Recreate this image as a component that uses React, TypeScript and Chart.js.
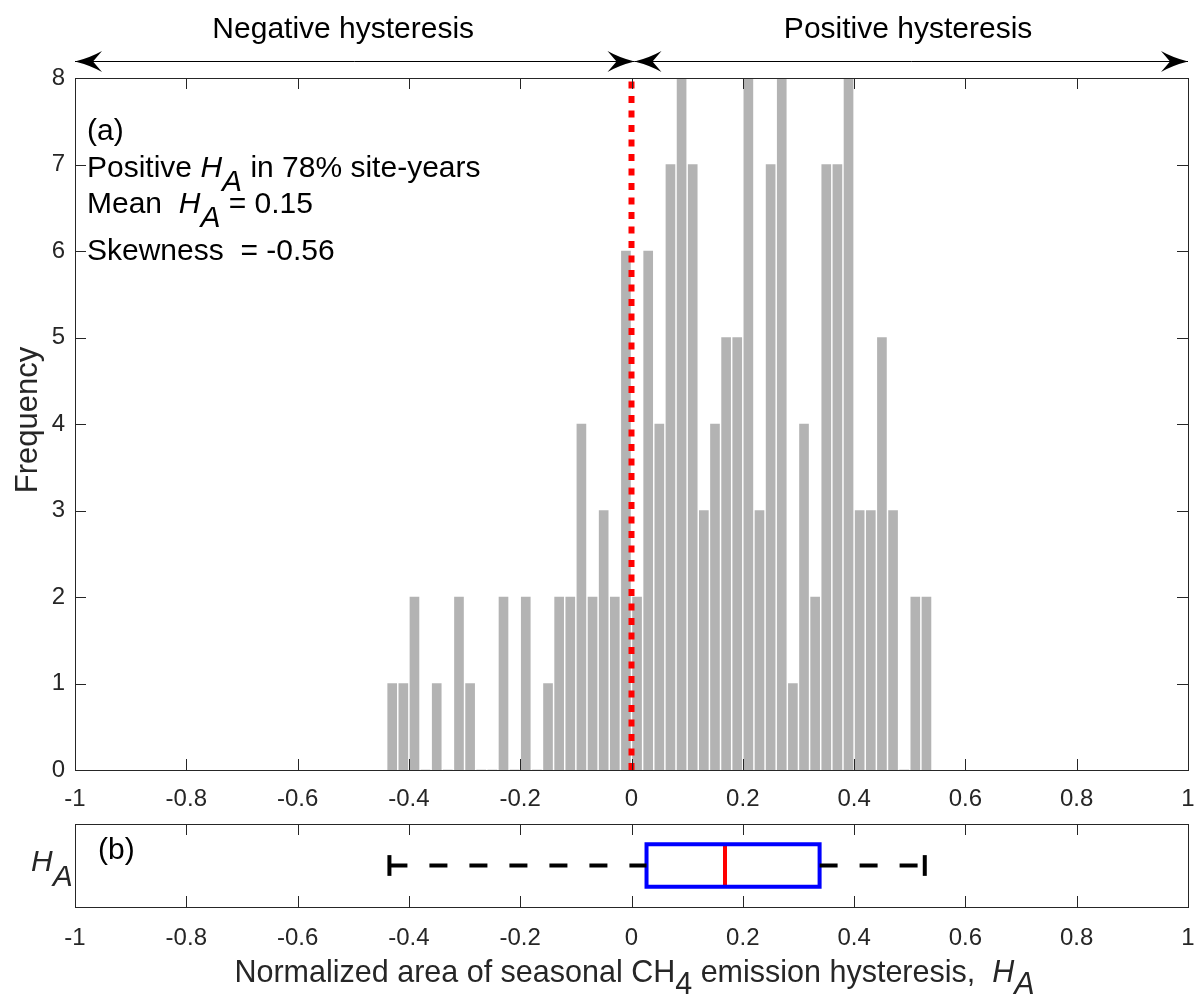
import React, { useEffect, useRef } from "react";
import { Chart, registerables } from "chart.js";

Chart.register(...registerables);

// ---------------- data ----------------
const binCenters = [
  -0.43, -0.41, -0.39, -0.37, -0.35, -0.33, -0.31, -0.29, -0.27, -0.25, -0.23, -0.21,
  -0.19, -0.17, -0.15, -0.13, -0.11, -0.09, -0.07, -0.05, -0.03, -0.01,
  0.01, 0.03, 0.05, 0.07, 0.09, 0.11, 0.13, 0.15, 0.17, 0.19, 0.21, 0.23, 0.25,
  0.27, 0.29, 0.31, 0.33, 0.35, 0.37, 0.39, 0.41, 0.43, 0.45, 0.47, 0.49, 0.51, 0.53,
];
const binCounts = [
  1, 1, 2, 0, 1, 0, 2, 1, 0, 0, 2, 0,
  2, 0, 1, 2, 2, 4, 2, 3, 2, 6,
  2, 6, 4, 7, 8, 7, 3, 4, 5, 5, 8, 3, 7,
  8, 1, 4, 2, 7, 7, 8, 3, 3, 5, 3, 0, 2, 2,
];
const xTickValues = [-1, -0.8, -0.6, -0.4, -0.2, 0, 0.2, 0.4, 0.6, 0.8, 1];
const yTickValues = [0, 1, 2, 3, 4, 5, 6, 7, 8];
const zeroLineX = 0;
// box plot: [lower whisker, q1, median, q3, upper whisker]
const boxValues = [-0.435, 0.027, 0.168, 0.338, 0.527];
const arrowRanges = [
  [-1, 0],
  [0, 1],
];
const arrowLabels = ["Negative hysteresis", "Positive hysteresis"];
const arrowLabelPos = [-0.518, 0.497];

const FONT = "'Liberation Sans', Arial, Helvetica, sans-serif";
const AXIS = "#262626";

type Seg = { t: string; i?: boolean; sub?: boolean };

const infoLines: Seg[][] = [
  [{ t: "(a)" }],
  [{ t: "Positive " }, { t: "H", i: true }, { t: "A", i: true, sub: true }, { t: " in 78% site-years" }],
  [{ t: "Mean  " }, { t: "H", i: true }, { t: "A", i: true, sub: true }, { t: " = 0.15" }],
  [{ t: "Skewness  = -0.56" }],
];
const infoBaselines = [140, 177, 213, 260];
const xTitle: Seg[] = [
  { t: "Normalized area of seasonal CH" },
  { t: "4", sub: true },
  { t: " emission hysteresis,  " },
  { t: "H", i: true },
  { t: "A", i: true, sub: true },
];
const yTitleBottom: Seg[] = [{ t: "H", i: true }, { t: "A", i: true, sub: true }];

function drawRich(
  ctx: CanvasRenderingContext2D,
  segs: Seg[],
  x: number,
  y: number,
  size: number,
  align: "left" | "center",
  subDy: number
) {
  const fontFor = (s: Seg) => `${s.i ? "italic " : ""}${size}px ${FONT}`;
  let total = 0;
  for (const s of segs) {
    ctx.font = fontFor(s);
    total += ctx.measureText(s.t).width;
  }
  let cx = align === "center" ? x - total / 2 : x;
  ctx.textAlign = "left";
  ctx.textBaseline = "alphabetic";
  for (const s of segs) {
    ctx.font = fontFor(s);
    ctx.fillText(s.t, cx, y + (s.sub ? subDy : 0));
    cx += ctx.measureText(s.t).width;
  }
}

function drawArrowHead(ctx: CanvasRenderingContext2D, tipX: number, y: number, dir: number) {
  const L = 27;
  const W = 10.5;
  const notch = 9;
  ctx.beginPath();
  ctx.moveTo(tipX, y);
  ctx.quadraticCurveTo(tipX - dir * L * 0.55, y - W * 0.35, tipX - dir * L, y - W);
  ctx.lineTo(tipX - dir * (L - notch), y);
  ctx.lineTo(tipX - dir * L, y + W);
  ctx.quadraticCurveTo(tipX - dir * L * 0.55, y + W * 0.35, tipX, y);
  ctx.closePath();
  ctx.fill();
}

function drawFrame(chart: any, yTicks: number[] | null) {
  const ctx: CanvasRenderingContext2D = chart.ctx;
  const a = chart.chartArea;
  const xs = chart.scales.x;
  const ys = chart.scales.y;
  const T = 11;
  ctx.save();
  ctx.strokeStyle = AXIS;
  ctx.lineWidth = 1;
  ctx.strokeRect(Math.round(a.left) + 0.5, Math.round(a.top) + 0.5, Math.round(a.right - a.left), Math.round(a.bottom - a.top));
  ctx.beginPath();
  for (const v of xTickValues) {
    const px = Math.round(xs.getPixelForValue(v)) + 0.5;
    ctx.moveTo(px, a.bottom);
    ctx.lineTo(px, a.bottom - T);
    ctx.moveTo(px, a.top);
    ctx.lineTo(px, a.top + T);
  }
  if (yTicks) {
    for (const v of yTicks) {
      const py = Math.round(ys.getPixelForValue(v)) + 0.5;
      ctx.moveTo(a.left, py);
      ctx.lineTo(a.left + T, py);
      ctx.moveTo(a.right, py);
      ctx.lineTo(a.right - T, py);
    }
  }
  ctx.stroke();
  ctx.restore();
}

const topPlugin = {
  id: "topDecor",
  afterDraw(chart: any) {
    const ctx: CanvasRenderingContext2D = chart.ctx;
    const a = chart.chartArea;
    const xs = chart.scales.x;
    drawFrame(chart, yTickValues);
    ctx.save();
    // arrows
    const ay = a.top - 17;
    ctx.strokeStyle = "#000";
    ctx.fillStyle = "#000";
    ctx.lineWidth = 1;
    arrowRanges.forEach(([lo, hi], k) => {
      const x0 = xs.getPixelForValue(lo) + (k === 1 ? 3 : 0);
      const x1 = xs.getPixelForValue(hi) + (k === 0 ? 3 : 0);
      ctx.beginPath();
      ctx.moveTo(x0, ay + 0.5);
      ctx.lineTo(x1, ay + 0.5);
      ctx.stroke();
      drawArrowHead(ctx, x0, ay + 0.5, -1);
      drawArrowHead(ctx, x1, ay + 0.5, 1);
    });
    ctx.fillStyle = "#000";
    arrowLabels.forEach((lab, k) => {
      drawRich(ctx, [{ t: lab }], xs.getPixelForValue(arrowLabelPos[k]), 38, 30, "center", 0);
    });
    // info text
    infoLines.forEach((segs, k) => {
      drawRich(ctx, segs, 87, infoBaselines[k], 30, "left", 14);
    });
    // y title
    ctx.fillStyle = AXIS;
    ctx.translate(28, 420);
    ctx.rotate(-Math.PI / 2);
    ctx.font = `31px ${FONT}`;
    ctx.textAlign = "center";
    ctx.textBaseline = "middle";
    ctx.fillText("Frequency", 0, 0);
    ctx.restore();
  },
};

const bottomPlugin = {
  id: "bottomDecor",
  afterDraw(chart: any) {
    const ctx: CanvasRenderingContext2D = chart.ctx;
    const a = chart.chartArea;
    drawFrame(chart, null);
    ctx.save();
    ctx.fillStyle = "#000";
    drawRich(ctx, [{ t: "(b)" }], 98, 59, 30, "left", 0);
    ctx.fillStyle = AXIS;
    drawRich(ctx, yTitleBottom, 31, 71, 30, "left", 15);
    drawRich(ctx, xTitle, (a.left + a.right) / 2 + 3, 182, 30.5, "center", 12);
    ctx.restore();
  },
};

const tickFont = { family: FONT, size: 24 };
const fmt = (v: number) => String(Math.round(v * 10) / 10);
const noPad = (s: any) => {
  s.paddingLeft = 0;
  s.paddingRight = 0;
};

export default function App() {
  const topRef = useRef<HTMLCanvasElement>(null);
  const botRef = useRef<HTMLCanvasElement>(null);

  useEffect(() => {
    const TOP_H = 830;
    const BOT_H = 194;
    const c1 = new Chart(topRef.current as HTMLCanvasElement, {
      type: "bar",
      data: {
        datasets: [
          {
            type: "line",
            data: [
              { x: zeroLineX, y: 0 },
              { x: zeroLineX, y: 8 },
            ],
            borderColor: "#ff0000",
            borderWidth: 6,
            borderDash: [7, 7.5],
            pointRadius: 0,
            order: 0,
            clip: 4,
          } as any,
          {
            type: "bar",
            data: binCenters.map((x, i) => ({ x, y: binCounts[i] })),
            backgroundColor: "#b3b3b3",
            borderWidth: 0,
            barThickness: 9,
            order: 1,
          } as any,
        ],
      },
      options: {
        responsive: false,
        animation: false,
        events: [],
        layout: { padding: { top: 78, left: 0, right: 7, bottom: 0 } },
        plugins: { legend: { display: false }, tooltip: { enabled: false } },
        scales: {
          x: {
            type: "linear",
            min: -1,
            max: 1,
            offset: false,
            grid: { display: false, drawTicks: false, offset: false },
            border: { display: false },
            afterBuildTicks: (s: any) => {
              s.ticks = xTickValues.map((v) => ({ value: v }));
            },
            afterFit: (s: any) => {
              s.height = TOP_H - 770;
              noPad(s);
            },
            ticks: {
              autoSkip: false,
              maxRotation: 0,
              padding: 15,
              color: AXIS,
              font: tickFont,
              callback: (v: any) => fmt(Number(v)),
            },
          },
          y: {
            type: "linear",
            min: 0,
            max: 8,
            grid: { display: false, drawTicks: false },
            border: { display: false },
            afterBuildTicks: (s: any) => {
              s.ticks = yTickValues.map((v) => ({ value: v }));
            },
            afterFit: (s: any) => {
              s.width = 75;
            },
            ticks: {
              padding: 10,
              color: AXIS,
              font: tickFont,
              callback: (v: any) => fmt(Number(v)),
            },
          },
        },
      } as any,
      plugins: [topPlugin],
    });

    const [wLo, q1, med, q3, wHi] = boxValues;
    const boxH = 0.51;
    const capH = 0.25;
    const lineDs = (data: any[], color: string, dash: number[] = []) => ({
      data,
      showLine: true,
      borderColor: color,
      borderWidth: 4,
      borderDash: dash,
      pointRadius: 0,
      fill: false,
      tension: 0,
      borderJoinStyle: "miter",
      clip: 4,
    });
    const c2 = new Chart(botRef.current as HTMLCanvasElement, {
      type: "scatter",
      data: {
        datasets: [
          lineDs([{ x: wLo, y: 0 }, { x: q1, y: 0 }], "#000000", [18, 22]),
          lineDs([{ x: q3, y: 0 }, { x: wHi, y: 0 }], "#000000", [18, 22]),
          lineDs([{ x: wLo, y: -capH }, { x: wLo, y: capH }], "#000000"),
          lineDs([{ x: wHi, y: -capH }, { x: wHi, y: capH }], "#000000"),
          lineDs(
            [
              { x: q1, y: -boxH },
              { x: q3, y: -boxH },
              { x: q3, y: boxH },
              { x: q1, y: boxH },
              { x: q1, y: -boxH },
              { x: q3, y: -boxH },
            ],
            "#0000ff"
          ),
          lineDs([{ x: med, y: -boxH }, { x: med, y: boxH }], "#ff0000"),
        ] as any,
      },
      options: {
        responsive: false,
        animation: false,
        events: [],
        layout: { padding: { top: 24, left: 0, right: 7, bottom: 0 } },
        plugins: { legend: { display: false }, tooltip: { enabled: false } },
        scales: {
          x: {
            type: "linear",
            min: -1,
            max: 1,
            grid: { display: false, drawTicks: false },
            border: { display: false },
            afterBuildTicks: (s: any) => {
              s.ticks = xTickValues.map((v) => ({ value: v }));
            },
            afterFit: (s: any) => {
              s.height = BOT_H - 107;
              noPad(s);
            },
            ticks: {
              autoSkip: false,
              maxRotation: 0,
              padding: 17,
              color: AXIS,
              font: tickFont,
              callback: (v: any) => fmt(Number(v)),
            },
          },
          y: {
            type: "linear",
            min: -1,
            max: 1,
            grid: { display: false, drawTicks: false },
            border: { display: false },
            ticks: { display: false },
            afterFit: (s: any) => {
              s.width = 75;
            },
          },
        },
      } as any,
      plugins: [bottomPlugin],
    });

    return () => {
      c1.destroy();
      c2.destroy();
    };
  }, []);

  return (
    <div style={{ position: "absolute", left: 0, top: 0, width: 1195, height: 994, background: "#ffffff", overflow: "hidden" }}>
      <canvas ref={topRef} width={1195} height={830} style={{ position: "absolute", left: 0, top: 0, display: "block" }} />
      <canvas ref={botRef} width={1195} height={194} style={{ position: "absolute", left: 0, top: 800, display: "block" }} />
    </div>
  );
}
